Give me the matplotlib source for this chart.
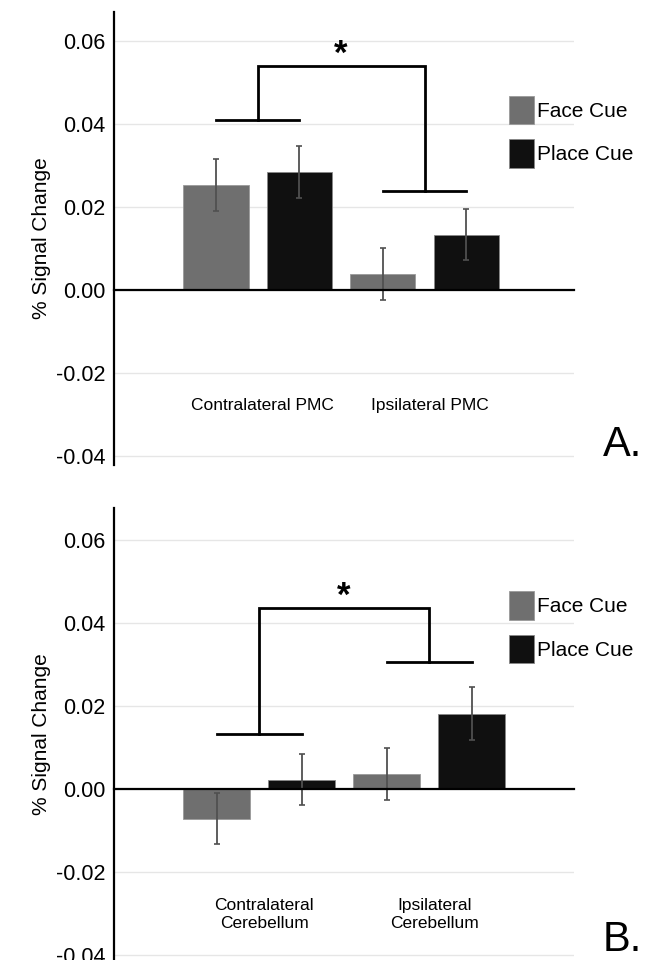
import numpy as np
import matplotlib.pyplot as plt

plt.rcParams["font.family"] = ["Liberation Sans", "DejaVu Sans"]

# panel A: premotor cortex
groups_a = ["Contralateral PMC", "Ipsilateral PMC"]
face_a = [0.0253, 0.0038]
place_a = [0.0284, 0.0133]
face_err_a = [0.0062, 0.0063]
place_err_a = [0.0062, 0.0062]
# left arm, top, right arm of the significance bracket
bracket_a = [0.0410, 0.0540, 0.0238]

# panel B: cerebellum
groups_b = ["Contralateral\nCerebellum", "Ipsilateral\nCerebellum"]
face_b = [-0.0071, 0.0036]
place_b = [0.0023, 0.0182]
face_err_b = [0.0062, 0.0063]
place_err_b = [0.0062, 0.0063]
bracket_b = [0.0134, 0.0437, 0.0306]

series = ["Face Cue", "Place Cue"]
colors = ["#6f6f6f", "#101010"]

yticks = [-0.04, -0.02, 0.00, 0.02, 0.04, 0.06]


fig = plt.figure(figsize=(6.56, 9.6), dpi=100)

ax_a = fig.add_axes([0.174, 0.516, 0.701, 0.4715])
ax_b = fig.add_axes([0.174, 0.0, 0.701, 0.471])


def draw_panel(ax, groups, face, place, face_err, place_err, bracket,
               ylim, xlim, label_y, letter):

    x = np.arange(len(groups))
    width = 0.39
    off = 0.25

    ax.bar(x - off, face, width, color=colors[0], edgecolor="#9a9a9a",
           linewidth=0.6, label=series[0], zorder=3)
    ax.bar(x + off, place, width, color=colors[1], edgecolor="#888888",
           linewidth=0.6, label=series[1], zorder=3)

    ax.errorbar(x - off, face, yerr=face_err, fmt="none", ecolor="#505050",
                elinewidth=1.3, capsize=2, capthick=1.2, zorder=4)
    ax.errorbar(x + off, place, yerr=place_err, fmt="none", ecolor="#505050",
                elinewidth=1.3, capsize=2, capthick=1.2, zorder=4)

    # significance bracket
    lw = 2.0
    ax.plot([x[0] - off, x[0] + off], [bracket[0], bracket[0]],
            color="black", lw=lw, zorder=5)
    ax.plot([x[1] - off, x[1] + off], [bracket[2], bracket[2]],
            color="black", lw=lw, zorder=5)
    ax.plot([x[0], x[0], x[1], x[1]],
            [bracket[0], bracket[1], bracket[1], bracket[2]],
            color="black", lw=lw, zorder=5, solid_joinstyle="miter")
    ax.text((x[0] + x[1]) / 2, bracket[1] + 0.0028, "*", ha="center",
            va="center", fontsize=25, fontweight="bold")

    for xi, g in zip(x, groups):
        ax.text(xi + 0.03, label_y, g, ha="center", va="center",
                fontsize=12.5, linespacing=1.25)

    ax.set_ylim(*ylim)
    ax.set_xlim(*xlim)
    ax.set_yticks(yticks)
    ax.set_yticklabels([f"{t:.2f}" for t in yticks], fontsize=15.5)
    ax.set_xticks([])
    ax.tick_params(axis="y", length=0, pad=6)

    ax.grid(axis="y", color="#e6e6e6", linewidth=1.0, zorder=0)
    ax.set_axisbelow(True)

    for side in ["top", "right"]:
        ax.spines[side].set_visible(False)
    ax.spines["left"].set_linewidth(1.6)
    ax.spines["bottom"].set_position(("data", 0))
    ax.spines["bottom"].set_linewidth(1.6)
    ax.spines["bottom"].set_zorder(6)

    ax.set_ylabel("% Signal Change", fontsize=15, labelpad=4)

    ax.legend(loc="upper left", bbox_to_anchor=(0.859, 0.815),
              frameon=False, fontsize=15, handlelength=1.2,
              handleheight=1.7, handletextpad=0.12, labelspacing=0.75,
              borderpad=0, borderaxespad=0)

    ax.text(1.148, 0.0, letter, transform=ax.transAxes, ha="right",
            va="bottom", fontsize=30)


draw_panel(ax_a, groups_a, face_a, place_a, face_err_a, place_err_a,
           bracket_a, (-0.0422, 0.0670), (-0.86, 1.895), -0.028, "A.")

draw_panel(ax_b, groups_b, face_b, place_b, face_err_b, place_err_b,
           bracket_b, (-0.0412, 0.0678), (-0.853, 1.853), -0.0303, "B.")

plt.savefig("out.png", dpi=100)
